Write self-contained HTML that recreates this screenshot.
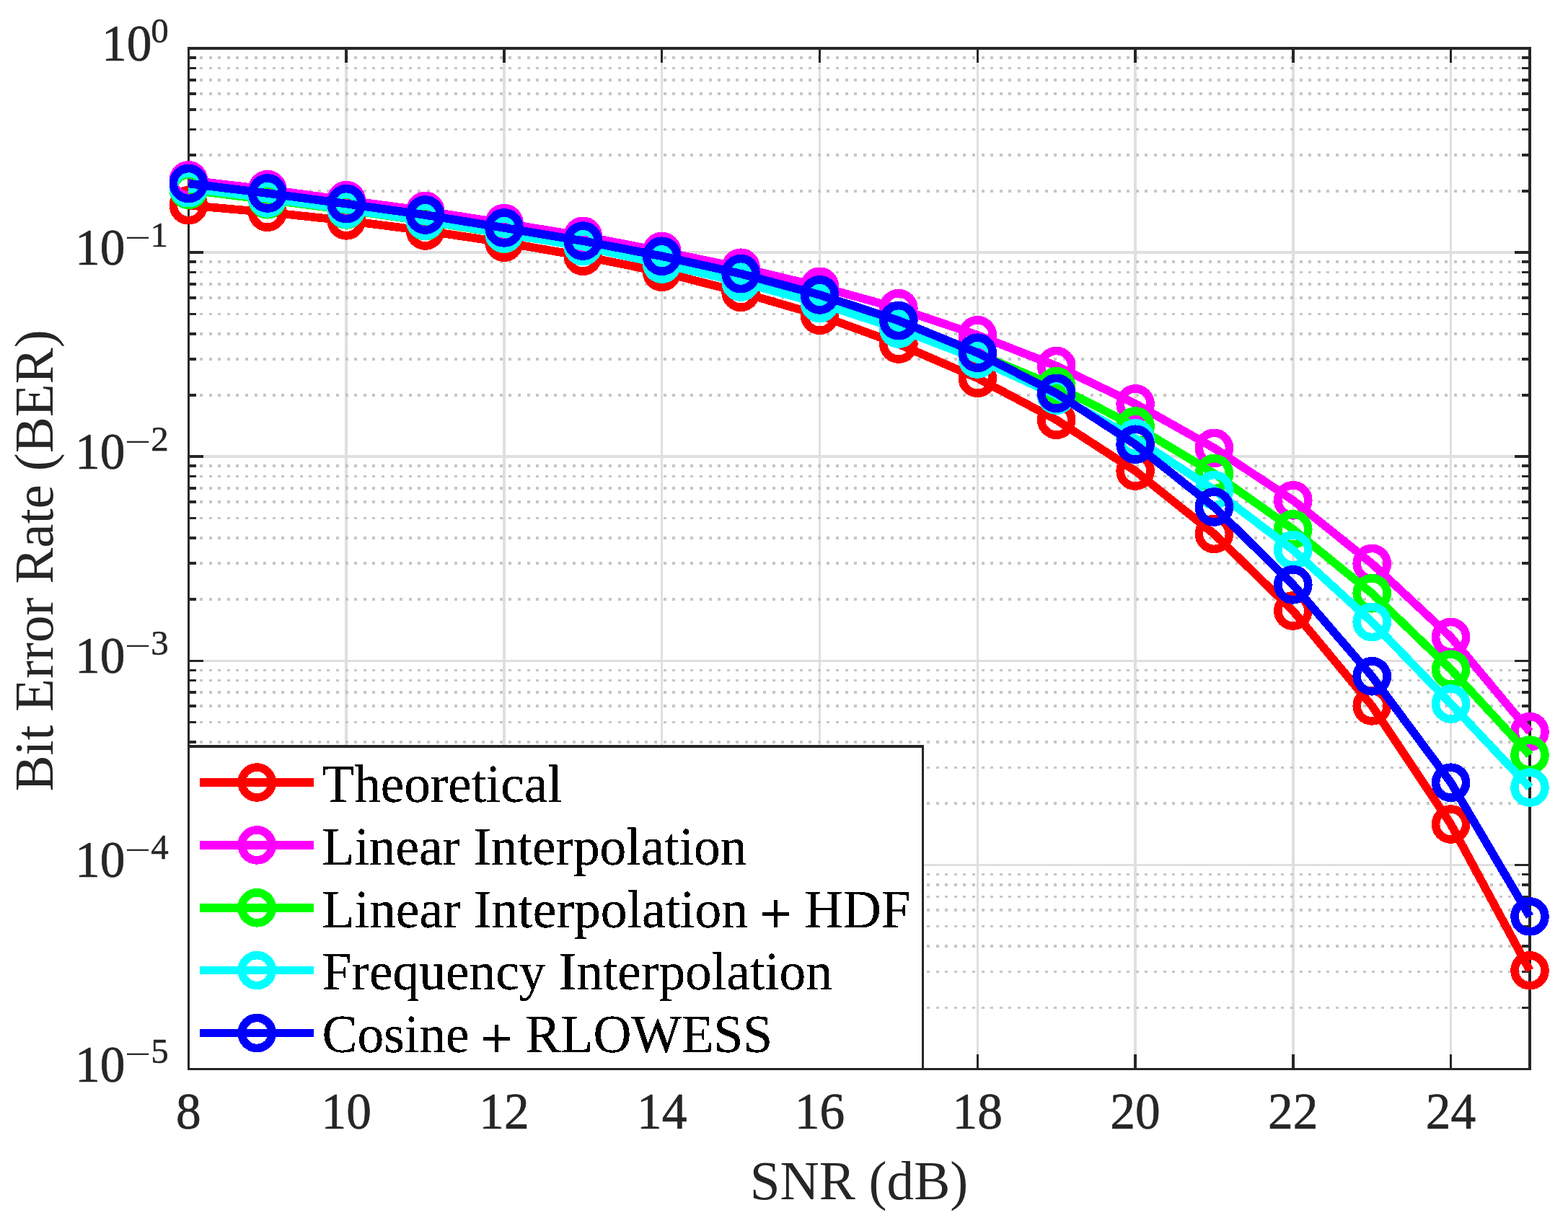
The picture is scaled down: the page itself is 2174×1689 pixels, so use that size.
<!DOCTYPE html>
<html lang="en"><head><meta charset="utf-8"><title>BER vs SNR</title>
<style>html,body{margin:0;padding:0;background:#fff;overflow:hidden}svg{display:block}text{font-family:"Liberation Serif",serif}</style></head><body>
<svg width="2174" height="1689" viewBox="0 0 2174 1689" role="img" aria-label="Bit Error Rate versus SNR">
<defs><filter id="hard" x="-5%" y="-20%" width="110%" height="140%" color-interpolation-filters="sRGB"><feComponentTransfer><feFuncA type="discrete" tableValues="0 1 1"/></feComponentTransfer></filter></defs>
<rect x="0" y="0" width="2174" height="1689" fill="#ffffff"/>
<g shape-rendering="crispEdges" fill="none">
<path d="M480.18 67.00V1482.50M698.95 67.00V1482.50M917.73 67.00V1482.50M1136.51 67.00V1482.50M1355.28 67.00V1482.50M1574.06 67.00V1482.50M1792.84 67.00V1482.50M2011.61 67.00V1482.50M261.40 350.10H2121.00M261.40 633.20H2121.00M261.40 916.30H2121.00M261.40 1199.40H2121.00" stroke="#dfdfdf" stroke-width="3.5"/>
<path d="M277.05 264.88H2111.00M277.05 215.03H2111.00M277.05 179.66H2111.00M277.05 152.22H2111.00M277.05 129.81H2111.00M277.05 110.85H2111.00M277.05 94.44H2111.00M277.05 79.95H2111.00M277.05 547.98H2111.00M277.05 498.13H2111.00M277.05 462.76H2111.00M277.05 435.32H2111.00M277.05 412.91H2111.00M277.05 393.95H2111.00M277.05 377.54H2111.00M277.05 363.05H2111.00M277.05 831.08H2111.00M277.05 781.23H2111.00M277.05 745.86H2111.00M277.05 718.42H2111.00M277.05 696.01H2111.00M277.05 677.05H2111.00M277.05 660.64H2111.00M277.05 646.15H2111.00M277.05 1114.18H2111.00M277.05 1064.33H2111.00M277.05 1028.96H2111.00M277.05 1001.52H2111.00M277.05 979.11H2111.00M277.05 960.15H2111.00M277.05 943.74H2111.00M277.05 929.25H2111.00M277.05 1397.28H2111.00M277.05 1347.43H2111.00M277.05 1312.06H2111.00M277.05 1284.62H2111.00M277.05 1262.21H2111.00M277.05 1243.25H2111.00M277.05 1226.84H2111.00M277.05 1212.35H2111.00" stroke="#c6c6c6" stroke-width="3.5" stroke-dasharray="4 8.6"/>
<path d="M480.18 1482.50v-20.4M480.18 67.00v20.2M698.95 1482.50v-20.4M698.95 67.00v20.2M917.73 1482.50v-20.4M917.73 67.00v20.2M1136.51 1482.50v-20.4M1136.51 67.00v20.2M1355.28 1482.50v-20.4M1355.28 67.00v20.2M1574.06 1482.50v-20.4M1574.06 67.00v20.2M1792.84 1482.50v-20.4M1792.84 67.00v20.2M2011.61 1482.50v-20.4M2011.61 67.00v20.2M261.40 350.10h20.4M2121.00 350.10h-20.8M261.40 633.20h20.4M2121.00 633.20h-20.8M261.40 916.30h20.4M2121.00 916.30h-20.8M261.40 1199.40h20.4M2121.00 1199.40h-20.8M261.40 264.88h10.5M2121.00 264.88h-10.8M261.40 215.03h10.5M2121.00 215.03h-10.8M261.40 179.66h10.5M2121.00 179.66h-10.8M261.40 152.22h10.5M2121.00 152.22h-10.8M261.40 129.81h10.5M2121.00 129.81h-10.8M261.40 110.85h10.5M2121.00 110.85h-10.8M261.40 94.44h10.5M2121.00 94.44h-10.8M261.40 79.95h10.5M2121.00 79.95h-10.8M261.40 547.98h10.5M2121.00 547.98h-10.8M261.40 498.13h10.5M2121.00 498.13h-10.8M261.40 462.76h10.5M2121.00 462.76h-10.8M261.40 435.32h10.5M2121.00 435.32h-10.8M261.40 412.91h10.5M2121.00 412.91h-10.8M261.40 393.95h10.5M2121.00 393.95h-10.8M261.40 377.54h10.5M2121.00 377.54h-10.8M261.40 363.05h10.5M2121.00 363.05h-10.8M261.40 831.08h10.5M2121.00 831.08h-10.8M261.40 781.23h10.5M2121.00 781.23h-10.8M261.40 745.86h10.5M2121.00 745.86h-10.8M261.40 718.42h10.5M2121.00 718.42h-10.8M261.40 696.01h10.5M2121.00 696.01h-10.8M261.40 677.05h10.5M2121.00 677.05h-10.8M261.40 660.64h10.5M2121.00 660.64h-10.8M261.40 646.15h10.5M2121.00 646.15h-10.8M261.40 1114.18h10.5M2121.00 1114.18h-10.8M261.40 1064.33h10.5M2121.00 1064.33h-10.8M261.40 1028.96h10.5M2121.00 1028.96h-10.8M261.40 1001.52h10.5M2121.00 1001.52h-10.8M261.40 979.11h10.5M2121.00 979.11h-10.8M261.40 960.15h10.5M2121.00 960.15h-10.8M261.40 943.74h10.5M2121.00 943.74h-10.8M261.40 929.25h10.5M2121.00 929.25h-10.8M261.40 1397.28h10.5M2121.00 1397.28h-10.8M261.40 1347.43h10.5M2121.00 1347.43h-10.8M261.40 1312.06h10.5M2121.00 1312.06h-10.8M261.40 1284.62h10.5M2121.00 1284.62h-10.8M261.40 1262.21h10.5M2121.00 1262.21h-10.8M261.40 1243.25h10.5M2121.00 1243.25h-10.8M261.40 1226.84h10.5M2121.00 1226.84h-10.8M261.40 1212.35h10.5M2121.00 1212.35h-10.8" stroke="#262626" stroke-width="3.5"/>
<rect x="261.4" y="67.0" width="1859.6" height="1415.5" stroke="#262626" stroke-width="3.5"/>
</g>
<g shape-rendering="crispEdges" fill="none" stroke-width="11.6" stroke-linejoin="round">
<g stroke="#ff0000"><polyline points="261.4,284.7 370.8,294.3 480.2,305.9 589.6,320.0 699.0,336.2 808.3,355.2 917.7,377.3 1027.1,405.3 1136.5,437.2 1245.9,477.1 1355.3,524.3 1464.7,582.2 1574.1,653.1 1683.4,740.4 1792.8,847.0 1902.2,978.9 2011.6,1143.0 2121.0,1345.8"/>
<circle cx="261.4" cy="284.7" r="21.0"/>
<circle cx="370.8" cy="294.3" r="21.0"/>
<circle cx="480.2" cy="305.9" r="21.0"/>
<circle cx="589.6" cy="320.0" r="21.0"/>
<circle cx="699.0" cy="336.2" r="21.0"/>
<circle cx="808.3" cy="355.2" r="21.0"/>
<circle cx="917.7" cy="377.3" r="21.0"/>
<circle cx="1027.1" cy="405.3" r="21.0"/>
<circle cx="1136.5" cy="437.2" r="21.0"/>
<circle cx="1245.9" cy="477.1" r="21.0"/>
<circle cx="1355.3" cy="524.3" r="21.0"/>
<circle cx="1464.7" cy="582.2" r="21.0"/>
<circle cx="1574.1" cy="653.1" r="21.0"/>
<circle cx="1683.4" cy="740.4" r="21.0"/>
<circle cx="1792.8" cy="847.0" r="21.0"/>
<circle cx="1902.2" cy="978.9" r="21.0"/>
<circle cx="2011.6" cy="1143.0" r="21.0"/>
<circle cx="2121.0" cy="1345.8" r="21.0"/>
</g>
<g stroke="#ff00ff"><polyline points="261.4,249.9 370.8,262.7 480.2,277.6 589.6,292.4 699.0,309.5 808.3,327.3 917.7,348.5 1027.1,371.2 1136.5,397.3 1245.9,427.7 1355.3,464.8 1464.7,507.5 1574.1,559.9 1683.4,621.3 1792.8,693.8 1902.2,781.5 2011.6,883.5 2121.0,1014.6"/>
<circle cx="261.4" cy="249.9" r="21.0"/>
<circle cx="370.8" cy="262.7" r="21.0"/>
<circle cx="480.2" cy="277.6" r="21.0"/>
<circle cx="589.6" cy="292.4" r="21.0"/>
<circle cx="699.0" cy="309.5" r="21.0"/>
<circle cx="808.3" cy="327.3" r="21.0"/>
<circle cx="917.7" cy="348.5" r="21.0"/>
<circle cx="1027.1" cy="371.2" r="21.0"/>
<circle cx="1136.5" cy="397.3" r="21.0"/>
<circle cx="1245.9" cy="427.7" r="21.0"/>
<circle cx="1355.3" cy="464.8" r="21.0"/>
<circle cx="1464.7" cy="507.5" r="21.0"/>
<circle cx="1574.1" cy="559.9" r="21.0"/>
<circle cx="1683.4" cy="621.3" r="21.0"/>
<circle cx="1792.8" cy="693.8" r="21.0"/>
<circle cx="1902.2" cy="781.5" r="21.0"/>
<circle cx="2011.6" cy="883.5" r="21.0"/>
<circle cx="2121.0" cy="1014.6" r="21.0"/>
</g>
<g stroke="#00ff00"><polyline points="261.4,263.3 370.8,276.8 480.2,290.9 589.6,306.7 699.0,324.1 808.3,341.4 917.7,365.6 1027.1,390.6 1136.5,420.2 1245.9,455.0 1355.3,490.5 1464.7,535.8 1574.1,591.0 1683.4,656.6 1792.8,733.9 1902.2,822.8 2011.6,928.2 2121.0,1047.0"/>
<circle cx="261.4" cy="263.3" r="21.0"/>
<circle cx="370.8" cy="276.8" r="21.0"/>
<circle cx="480.2" cy="290.9" r="21.0"/>
<circle cx="589.6" cy="306.7" r="21.0"/>
<circle cx="699.0" cy="324.1" r="21.0"/>
<circle cx="808.3" cy="341.4" r="21.0"/>
<circle cx="917.7" cy="365.6" r="21.0"/>
<circle cx="1027.1" cy="390.6" r="21.0"/>
<circle cx="1136.5" cy="420.2" r="21.0"/>
<circle cx="1245.9" cy="455.0" r="21.0"/>
<circle cx="1355.3" cy="490.5" r="21.0"/>
<circle cx="1464.7" cy="535.8" r="21.0"/>
<circle cx="1574.1" cy="591.0" r="21.0"/>
<circle cx="1683.4" cy="656.6" r="21.0"/>
<circle cx="1792.8" cy="733.9" r="21.0"/>
<circle cx="1902.2" cy="822.8" r="21.0"/>
<circle cx="2011.6" cy="928.2" r="21.0"/>
<circle cx="2121.0" cy="1047.0" r="21.0"/>
</g>
<g stroke="#00ffff"><polyline points="261.4,260.7 370.8,274.9 480.2,290.1 589.6,306.1 699.0,323.8 808.3,341.7 917.7,366.1 1027.1,391.1 1136.5,420.6 1245.9,456.1 1355.3,498.0 1464.7,548.1 1574.1,607.9 1683.4,679.6 1792.8,762.7 1902.2,862.5 2011.6,976.0 2121.0,1092.0"/>
<circle cx="261.4" cy="260.7" r="21.0"/>
<circle cx="370.8" cy="274.9" r="21.0"/>
<circle cx="480.2" cy="290.1" r="21.0"/>
<circle cx="589.6" cy="306.1" r="21.0"/>
<circle cx="699.0" cy="323.8" r="21.0"/>
<circle cx="808.3" cy="341.7" r="21.0"/>
<circle cx="917.7" cy="366.1" r="21.0"/>
<circle cx="1027.1" cy="391.1" r="21.0"/>
<circle cx="1136.5" cy="420.6" r="21.0"/>
<circle cx="1245.9" cy="456.1" r="21.0"/>
<circle cx="1355.3" cy="498.0" r="21.0"/>
<circle cx="1464.7" cy="548.1" r="21.0"/>
<circle cx="1574.1" cy="607.9" r="21.0"/>
<circle cx="1683.4" cy="679.6" r="21.0"/>
<circle cx="1792.8" cy="762.7" r="21.0"/>
<circle cx="1902.2" cy="862.5" r="21.0"/>
<circle cx="2011.6" cy="976.0" r="21.0"/>
<circle cx="2121.0" cy="1092.0" r="21.0"/>
</g>
<g stroke="#0000ff"><polyline points="261.4,254.5 370.8,268.0 480.2,282.6 589.6,298.0 699.0,315.9 808.3,334.1 917.7,355.2 1027.1,379.6 1136.5,408.9 1245.9,444.6 1355.3,489.2 1464.7,545.3 1574.1,616.2 1683.4,703.0 1792.8,810.8 1902.2,937.8 2011.6,1085.2 2121.0,1270.9"/>
<circle cx="261.4" cy="254.5" r="21.0"/>
<circle cx="370.8" cy="268.0" r="21.0"/>
<circle cx="480.2" cy="282.6" r="21.0"/>
<circle cx="589.6" cy="298.0" r="21.0"/>
<circle cx="699.0" cy="315.9" r="21.0"/>
<circle cx="808.3" cy="334.1" r="21.0"/>
<circle cx="917.7" cy="355.2" r="21.0"/>
<circle cx="1027.1" cy="379.6" r="21.0"/>
<circle cx="1136.5" cy="408.9" r="21.0"/>
<circle cx="1245.9" cy="444.6" r="21.0"/>
<circle cx="1355.3" cy="489.2" r="21.0"/>
<circle cx="1464.7" cy="545.3" r="21.0"/>
<circle cx="1574.1" cy="616.2" r="21.0"/>
<circle cx="1683.4" cy="703.0" r="21.0"/>
<circle cx="1792.8" cy="810.8" r="21.0"/>
<circle cx="1902.2" cy="937.8" r="21.0"/>
<circle cx="2011.6" cy="1085.2" r="21.0"/>
<circle cx="2121.0" cy="1270.9" r="21.0"/>
</g>
</g>
<rect x="261.4" y="1035.0" width="1018.1" height="447.5" fill="#ffffff" stroke="#262626" stroke-width="3.5" shape-rendering="crispEdges"/>
<g shape-rendering="crispEdges" fill="none" stroke-width="11.6">
<g stroke="#ff0000"><path d="M277.4 1085.0H435"/><circle cx="356.2" cy="1085.0" r="21.0"/></g>
<g stroke="#ff00ff"><path d="M277.4 1171.9H435"/><circle cx="356.2" cy="1171.9" r="21.0"/></g>
<g stroke="#00ff00"><path d="M277.4 1258.8H435"/><circle cx="356.2" cy="1258.8" r="21.0"/></g>
<g stroke="#00ffff"><path d="M277.4 1345.6H435"/><circle cx="356.2" cy="1345.6" r="21.0"/></g>
<g stroke="#0000ff"><path d="M277.4 1432.5H435"/><circle cx="356.2" cy="1432.5" r="21.0"/></g>
</g>
<g font-size="73.7" fill="#000000" filter="url(#hard)">
<text transform="translate(446.6 1112.0) scale(0.9925 1)" xml:space="preserve">Theoretical</text>
<text transform="translate(446.6 1198.8) scale(0.9957 1)" xml:space="preserve">Linear Interpolation</text>
<text transform="translate(446.6 1285.5) scale(0.9988 1)" xml:space="preserve">Linear Interpolation <tspan font-size="78.1" dx="-2.2" dy="7.0" stroke="#000" stroke-width="0.9">+</tspan><tspan dy="-7.0" dx="-0.3"> HDF</tspan></text>
<text transform="translate(446.6 1372.2) scale(0.9964 1)" xml:space="preserve">Frequency Interpolation</text>
<text transform="translate(446.6 1459.0) scale(0.996 1)" xml:space="preserve">Cosine <tspan font-size="78.1" dx="-2.2" dy="7.0" stroke="#000" stroke-width="0.9">+</tspan><tspan dy="-7.0" dx="-0.3"> RLOWESS</tspan></text>
</g>
<g fill="#262626" stroke="#262626" stroke-width="0.7" stroke-linejoin="round" font-size="71.5">
<text transform="translate(261.4 1564.9) scale(0.972 1)" text-anchor="middle">8</text>
<text transform="translate(480.2 1564.9) scale(0.972 1)" text-anchor="middle">10</text>
<text transform="translate(699.0 1564.9) scale(0.972 1)" text-anchor="middle">12</text>
<text transform="translate(917.7 1564.9) scale(0.972 1)" text-anchor="middle">14</text>
<text transform="translate(1136.5 1564.9) scale(0.972 1)" text-anchor="middle">16</text>
<text transform="translate(1355.3 1564.9) scale(0.972 1)" text-anchor="middle">18</text>
<text transform="translate(1574.1 1564.9) scale(0.972 1)" text-anchor="middle">20</text>
<text transform="translate(1792.8 1564.9) scale(0.972 1)" text-anchor="middle">22</text>
<text transform="translate(2011.6 1564.9) scale(0.972 1)" text-anchor="middle">24</text>
<text transform="translate(140.9 84.0) scale(0.972 1)">10</text>
<text x="209.3" y="58.8" font-size="49.0" stroke-width="0.5">0</text>
<text transform="translate(103.9 367.1) scale(0.972 1)">10</text>
<text transform="translate(172.9 344.7) scale(1.41 1)" font-size="46" stroke-width="0">−</text>
<text x="208.6" y="341.9" font-size="49.0" stroke-width="0.5">1</text>
<text transform="translate(103.9 650.2) scale(0.972 1)">10</text>
<text transform="translate(172.9 627.8) scale(1.41 1)" font-size="46" stroke-width="0">−</text>
<text x="209.3" y="625.0" font-size="49.0" stroke-width="0.5">2</text>
<text transform="translate(103.9 933.3) scale(0.972 1)">10</text>
<text transform="translate(172.9 910.9) scale(1.41 1)" font-size="46" stroke-width="0">−</text>
<text x="209.3" y="908.1" font-size="49.0" stroke-width="0.5">3</text>
<text transform="translate(103.9 1216.4) scale(0.972 1)">10</text>
<text transform="translate(172.9 1194.0) scale(1.41 1)" font-size="46" stroke-width="0">−</text>
<text x="209.3" y="1191.2" font-size="49.0" stroke-width="0.5">4</text>
<text transform="translate(103.9 1499.5) scale(0.972 1)">10</text>
<text transform="translate(172.9 1477.1) scale(1.41 1)" font-size="46" stroke-width="0">−</text>
<text x="209.3" y="1474.3" font-size="49.0" stroke-width="0.5">5</text>
</g>
<g fill="#262626" font-size="75.1">
<text x="1191" y="1663.2" text-anchor="middle">SNR (dB)</text>
<text transform="translate(73 777.4) rotate(-90)" text-anchor="middle">Bit Error Rate (BER)</text>
</g>
</svg></body></html>
